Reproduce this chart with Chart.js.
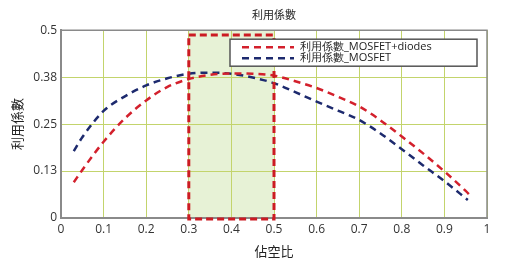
<!DOCTYPE html>
<html>
<head>
<meta charset="utf-8">
<script src="https://cdn.jsdelivr.net/npm/chart.js@4.4.1/dist/chart.umd.min.js"></script>
<style>
  html, body { margin: 0; padding: 0; background: #fff; }
  #wrap { width: 512px; height: 270px; }
</style>
</head>
<body>
<div id="wrap"><canvas id="myChart" width="512" height="270"></canvas></div>
<script>
// duty cycle (x) and utilisation factor (y)
const xDiodes = [0.03, 0.05, 0.1, 0.15, 0.2, 0.25, 0.3, 0.35, 0.4, 0.45, 0.5, 0.55, 0.6, 0.65, 0.7, 0.75, 0.8, 0.85, 0.9, 0.95, 0.965];
const yDiodes = [0.095, 0.128, 0.203, 0.265, 0.313, 0.349, 0.370, 0.381, 0.385, 0.384, 0.379, 0.364, 0.346, 0.323, 0.297, 0.260, 0.217, 0.172, 0.124, 0.072, 0.055];
const xMosfet = [0.03, 0.05, 0.1, 0.15, 0.2, 0.25, 0.3, 0.35, 0.4, 0.45, 0.5, 0.55, 0.6, 0.65, 0.7, 0.75, 0.8, 0.85, 0.9, 0.955];
const yMosfet = [0.178, 0.215, 0.285, 0.324, 0.353, 0.372, 0.384, 0.387, 0.384, 0.374, 0.359, 0.335, 0.310, 0.286, 0.261, 0.225, 0.183, 0.140, 0.098, 0.048];

const seriesNames = ['利用係數_MOSFET+diodes', '利用係數_MOSFET'];
const yTickValues = [0, 0.125, 0.25, 0.375, 0.5];
const yTickLabels = ['0', '0.13', '0.25', '0.38', '0.5'];

// highlighted duty-cycle window
const rangeX = [0.3, 0.5];
const rangeY = [0, 0.487];

const RED = '#d3202c';
const BLUE = '#1d2a6e';
const GRID = '#c3d46c';
const AXIS = '#8a8a8a';

const toPoints = (xs, ys) => xs.map((x, i) => ({ x: x, y: ys[i] }));

const shadePlugin = {
  id: 'shade',
  beforeDraw(chart) {
    const { ctx, chartArea, scales: { x, y } } = chart;
    ctx.save();
    ctx.fillStyle = '#e7f2d6';
    const x0 = x.getPixelForValue(rangeX[0]);
    const x1 = x.getPixelForValue(rangeX[1]);
    ctx.fillRect(x0, chartArea.top, x1 - x0, chartArea.bottom - chartArea.top);
    ctx.restore();
  },
  afterDatasetsDraw(chart) {
    const { ctx, chartArea, scales: { x, y } } = chart;
    ctx.save();
    // grey frame on top and right
    ctx.strokeStyle = AXIS;
    ctx.lineWidth = 1.5;
    ctx.beginPath();
    ctx.moveTo(chartArea.left, chartArea.top);
    ctx.lineTo(chartArea.right, chartArea.top);
    ctx.lineTo(chartArea.right, chartArea.bottom);
    ctx.stroke();
    // red dashed box
    ctx.strokeStyle = '#cc1b22';
    ctx.lineWidth = 3;
    ctx.setLineDash([7, 4]);
    const x0 = x.getPixelForValue(rangeX[0]);
    const x1 = x.getPixelForValue(rangeX[1]);
    const y0 = y.getPixelForValue(rangeY[0]) + 1;
    const y1 = y.getPixelForValue(rangeY[1]);
    ctx.strokeRect(x0, y1, x1 - x0, y0 - y1);
    ctx.restore();
  },
  afterDraw(chart) {
    const { ctx, chartArea } = chart;
    const left = chartArea.left + 169;
    const top = chartArea.top + 9;
    const w = 247, h = 27;
    ctx.save();
    ctx.fillStyle = '#fff';
    ctx.fillRect(left, top, w, h);
    ctx.strokeStyle = '#555';
    ctx.lineWidth = 1.5;
    ctx.strokeRect(left, top, w, h);
    ctx.font = '11px "Open Sans", sans-serif';
    ctx.textBaseline = 'middle';
    chart.data.datasets.forEach((ds, i) => {
      const yy = top + 8 + i * 11;
      ctx.strokeStyle = ds.borderColor;
      ctx.lineWidth = 2.5;
      ctx.setLineDash([7, 5]);
      ctx.beginPath();
      ctx.moveTo(left + 12, yy);
      ctx.lineTo(left + 64, yy);
      ctx.stroke();
      ctx.setLineDash([]);
      ctx.fillStyle = '#222';
      ctx.fillText(ds.label, left + 70, yy);
    });
    ctx.restore();
  }
};

const data = {
  datasets: [{
    label: seriesNames[0],
    data: toPoints(xDiodes, yDiodes),
    borderColor: RED,
    borderWidth: 2.5,
    borderDash: [7, 5],
    pointRadius: 0,
    cubicInterpolationMode: 'monotone',
    fill: false
  }, {
    label: seriesNames[1],
    data: toPoints(xMosfet, yMosfet),
    borderColor: BLUE,
    borderWidth: 2.5,
    borderDash: [7, 5],
    pointRadius: 0,
    cubicInterpolationMode: 'monotone',
    fill: false
  }]
};

const config = {
  type: 'line',
  data: data,
  options: {
    responsive: false,
    animation: false,
    layout: { padding: { left: 0, right: 25, top: 0, bottom: 0 } },
    plugins: {
      legend: { display: false },
      tooltip: { enabled: false },
      title: {
        display: true,
        text: '利用係數',
        fullSize: false,
        color: '#222',
        font: { family: '"Noto Sans CJK TC", sans-serif', size: 11, weight: 'normal' },
        padding: { top: 8, bottom: 9 }
      }
    },
    scales: {
      x: {
        type: 'linear',
        min: 0,
        max: 1,
        afterFit: (scale) => { scale.height = 52; },
        ticks: {
          stepSize: 0.1,
          color: '#333',
          padding: 4,
          font: { family: '"Open Sans", sans-serif', size: 12 },
          callback: (v) => Math.round(v * 10) / 10
        },
        grid: { color: GRID, lineWidth: 1, drawTicks: false },
        border: { color: AXIS, width: 2 },
        title: {
          display: true,
          text: '佔空比',
          color: '#222',
          font: { family: '"Noto Sans CJK TC", sans-serif', size: 13 },
          padding: { top: 0, bottom: 11 }
        }
      },
      y: {
        min: 0,
        max: 0.5,
        afterFit: (scale) => { scale.width = 61; },
        afterBuildTicks: (scale) => { scale.ticks = yTickValues.map(v => ({ value: v })); },
        ticks: {
          color: '#333',
          padding: 4,
          font: { family: '"Open Sans", sans-serif', size: 12 },
          callback: (v) => yTickLabels[yTickValues.indexOf(v)]
        },
        grid: { color: GRID, lineWidth: 1, drawTicks: false },
        border: { color: AXIS, width: 2 },
        title: {
          display: true,
          text: '利用係數',
          color: '#222',
          font: { family: '"Noto Sans CJK TC", sans-serif', size: 13 },
          padding: { top: 9, bottom: 4 }
        }
      }
    }
  },
  plugins: [shadePlugin]
};

const myChart = new Chart(document.getElementById('myChart'), config);
</script>
</body>
</html>
